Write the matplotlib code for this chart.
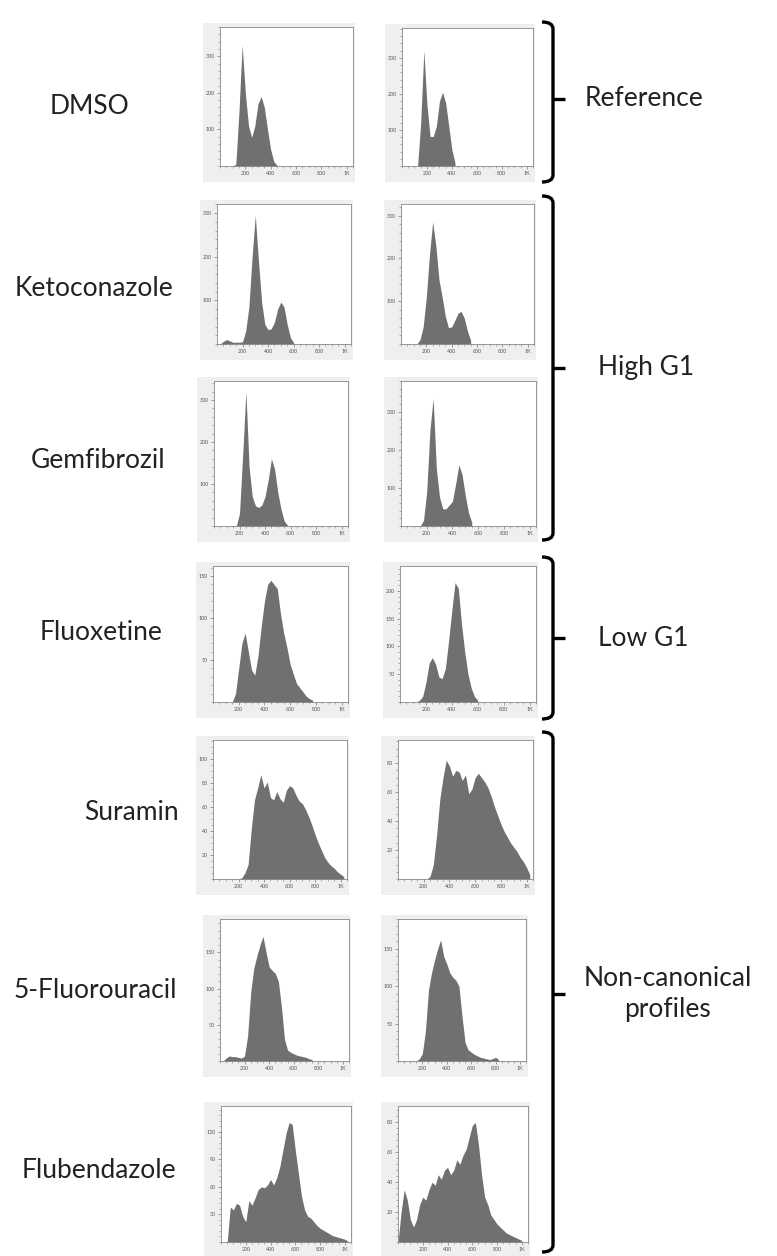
import numpy as np
import matplotlib
matplotlib.use('Agg')
import matplotlib.pyplot as plt
from matplotlib.path import Path
from matplotlib.patches import PathPatch, Rectangle
from matplotlib.ticker import MultipleLocator, FixedLocator

plt.rcParams['font.family'] = ['Lato', 'DejaVu Sans']

# DNA content histograms, counts read every 25 channels starting at 0
# (values after the last entry are zero)
STEP = 25
drugs = ['DMSO', 'Ketoconazole', 'Gemfibrozil', 'Fluoxetine',
         'Suramin', '5-Fluorouracil', 'Flubendazole']

dmso_1 = [0, 0, 0, 0, 0, 5, 150, 330, 200, 110, 78, 110, 170, 190, 160, 100, 45, 12, 2]
dmso_2 = [0, 0, 0, 0, 0, 0, 120, 320, 170, 82, 82, 110, 180, 205, 175, 110, 45, 8]
keto_1 = [0, 0, 6, 10, 7, 4, 4, 4, 5, 30, 85, 200, 295, 190, 95, 45, 33, 35, 50, 80,
          96, 85, 45, 15, 3]
keto_2 = [0, 0, 0, 0, 0, 0, 10, 40, 110, 210, 285, 230, 150, 110, 65, 38, 40, 55, 72, 76,
          60, 30, 8]
gemf_1 = [0, 0, 0, 0, 0, 0, 0, 0, 30, 170, 320, 140, 70, 48, 44, 50, 70, 110, 160, 135,
          80, 40, 12, 2]
gemf_2 = [0, 0, 0, 0, 0, 0, 0, 15, 90, 250, 335, 150, 75, 45, 45, 55, 65, 110, 160, 135,
          80, 35, 10]
fluox_1 = [0, 0, 0, 0, 0, 0, 0, 10, 40, 70, 82, 60, 38, 32, 55, 90, 120, 140, 145, 140,
           135, 105, 82, 65, 45, 33, 22, 17, 12, 7, 4, 2]
fluox_2 = [0, 0, 0, 0, 0, 0, 3, 10, 35, 70, 80, 68, 45, 42, 60, 110, 165, 215, 205, 140,
           90, 50, 25, 10, 3]
sura_1 = [0, 0, 0, 0, 0, 0, 0, 0, 0, 1, 5, 12, 42, 66, 76, 87, 76, 81, 68, 66,
          73, 67, 64, 74, 78, 76, 70, 65, 63, 58, 52, 45, 37, 30, 24, 18, 14, 11, 9, 6,
          4, 2]
sura_2 = [0, 0, 0, 0, 0, 0, 0, 0, 0, 0, 2, 10, 30, 55, 70, 82, 78, 71, 75, 74,
          68, 72, 59, 62, 70, 73, 70, 67, 63, 57, 50, 44, 38, 33, 29, 25, 22, 19, 15, 12,
          8, 3]
fu_1 = [0, 0, 4, 7, 6, 6, 5, 4, 7, 35, 95, 128, 145, 160, 172, 150, 130, 125, 121, 110,
        75, 30, 15, 12, 10, 8, 7, 6, 5, 3, 2]
fu_2 = [0, 0, 0, 0, 0, 0, 0, 3, 10, 40, 95, 118, 135, 150, 162, 140, 130, 118, 112, 108,
        100, 60, 25, 15, 12, 9, 7, 5, 4, 3, 2, 3, 5, 2]
flub_1 = [0, 0, 0, 38, 35, 42, 40, 28, 22, 45, 40, 48, 57, 60, 59, 62, 68, 62, 70, 82,
          100, 118, 130, 128, 100, 75, 50, 35, 28, 26, 22, 18, 15, 13, 11, 9, 7, 6, 5, 4,
          3, 1]
flub_2 = [0, 20, 35, 28, 15, 10, 15, 25, 30, 28, 35, 40, 38, 45, 42, 48, 50, 45, 48, 55,
          52, 58, 62, 70, 78, 80, 65, 45, 30, 25, 18, 15, 12, 10, 8, 6, 5, 4, 3, 2,
          1]

series = [(dmso_1, dmso_2), (keto_1, keto_2), (gemf_1, gemf_2), (fluox_1, fluox_2),
          (sura_1, sura_2), (fu_1, fu_2), (flub_1, flub_2)]

# y axis settings per panel: (ymax, major, minor)
yaxes = [((380, 100, 20), (383, 100, 20)),
         ((321, 100, 20), (327, 100, 20)),
         ((345, 100, 20), (380, 100, 20)),
         ((162, 50, 10), (245, 50, 10)),
         ((116, 20, 5), (96, 20, 5)),
         ((196, 50, 10), (190, 50, 10)),
         ((148, 30, 6), (91, 20, 4))]

# panel boxes in pixels: left, right, top, bottom
boxes = [((220, 353, 27, 166), (402, 533, 28, 166)),
         ((217, 351, 204, 344), (401, 534, 204, 344)),
         ((214, 348, 381, 526), (401, 536, 381, 526)),
         ((213, 348, 566, 702), (400, 536, 566, 702)),
         ((213, 347, 740, 879), (398, 533, 740, 879)),
         ((220, 349, 919, 1061), (398, 526, 919, 1061)),
         ((221, 351, 1106, 1242), (398, 528, 1106, 1242))]

label_pos = [(90, 107), (94, 288), (98, 460), (101, 632), (131, 812), (95, 990), (99, 1170)]

groups = [('Reference', 22, 182, 99), ('High G1', 196, 540, 368),
          ('Low G1', 557, 719, 638), ('Non-canonical\nprofiles', 732, 1252, 994)]

W, H = 777, 1256
fig = plt.figure(figsize=(W / 100, H / 100), dpi=100)
bg = fig.add_axes([0, 0, 1, 1], zorder=0)
bg.set_xlim(0, W)
bg.set_ylim(H, 0)
bg.axis('off')

fill_col = '#707070'
xticks = [200, 400, 600, 800, 1000]
xlabels = ['200', '400', '600', '800', '1K']

for i, name in enumerate(drugs):
    for j in range(2):
        l, r, t, b = boxes[i][j]
        # light grey frame behind the plot, like the cytometry export
        bg.add_patch(Rectangle((l - 17, t - 4), (r - l) + 19, (b - t) + 20,
                               facecolor='#efefef', edgecolor='none'))
        ax = fig.add_axes([l / W, 1 - b / H, (r - l) / W, (b - t) / H], zorder=1)
        vals = np.array(series[i][j], dtype=float)
        x = np.arange(len(vals)) * STEP
        ax.fill_between(x, 0, vals, color=fill_col, linewidth=0)
        ymax, ymaj, ymin = yaxes[i][j]
        ax.set_xlim(0, 1050)
        ax.set_ylim(0, ymax)
        ax.xaxis.set_major_locator(FixedLocator(xticks))
        ax.set_xticklabels(xlabels)
        ax.xaxis.set_minor_locator(MultipleLocator(50))
        ax.yaxis.set_major_locator(MultipleLocator(ymaj))
        ax.yaxis.set_minor_locator(MultipleLocator(ymin))
        ax.set_yticks([v for v in np.arange(ymaj, ymax, ymaj)])
        ax.tick_params(which='major', direction='out', length=2.2, width=0.5,
                       labelsize=3.8, labelcolor='#555555', color='#777777', pad=1.5)
        ax.tick_params(which='minor', direction='out', length=1.2, width=0.4,
                       color='#777777')
        for s in ax.spines.values():
            s.set_color('#888888')
            s.set_linewidth(0.6)
    bg.text(label_pos[i][0], label_pos[i][1], name, fontsize=19, color='#222222',
            ha='center', va='center')

# brackets on the right
xv, xh, r = 553, 542, 7
for text, top, bot, mid in groups:
    verts = [(xh, top), (xv, top), (xv, top + r), (xv, bot - r), (xv, bot), (xh, bot)]
    codes = [Path.MOVETO, Path.CURVE3, Path.CURVE3, Path.LINETO, Path.CURVE3, Path.CURVE3]
    bg.add_patch(PathPatch(Path(verts, codes), facecolor='none', edgecolor='black',
                           linewidth=2.4, capstyle='butt'))
    bg.plot([xv, xv + 12], [mid, mid], color='black', linewidth=2.4, solid_capstyle='butt')
    if '\n' in text:
        bg.text(668, mid, text, fontsize=19, color='#222222', ha='center', va='center',
                linespacing=1.3)
    else:
        bg.text(585 if text == 'Reference' else 598, mid, text, fontsize=19,
                color='#222222', ha='left', va='center')

fig.savefig('out.png', dpi=100)
